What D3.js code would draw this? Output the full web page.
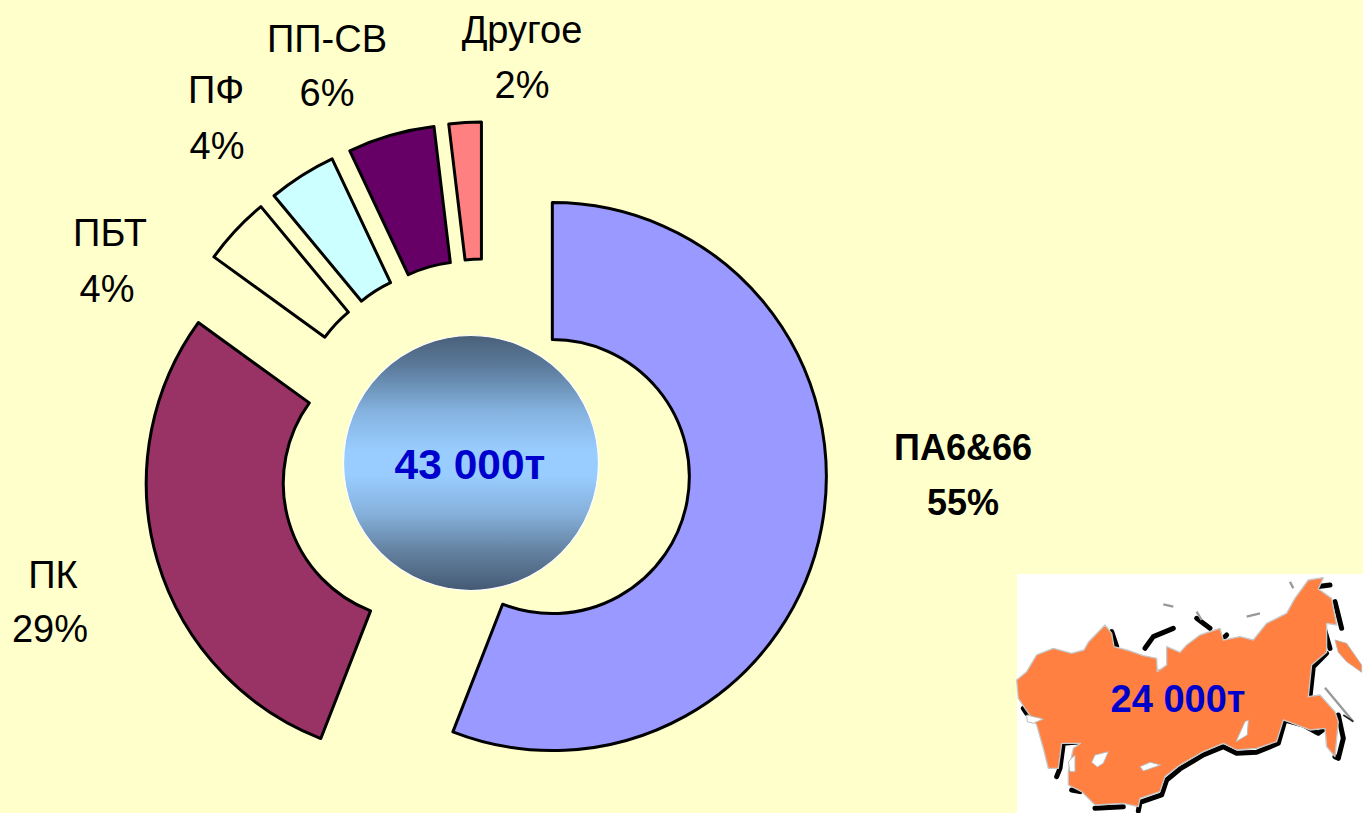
<!DOCTYPE html>
<html><head><meta charset="utf-8">
<script src="https://cdn.jsdelivr.net/npm/d3@7/dist/d3.min.js"></script>
<style>html,body{margin:0;padding:0;background:#FFFFCC;overflow:hidden}svg{display:block}text{font-family:"Liberation Sans",Arial,sans-serif}</style>
</head><body><svg id="c" width="1363" height="813"></svg>
<script>
const categories = ["ПА6&66","ПК","ПБТ","ПФ","ПП-СВ","Другое"];
const percentLabels = ["55%","29%","4%","4%","6%","2%"];
const sliceShares = [55.8,29,4,4,5.1,1.9];
const sliceColors = ["#9999FF","#993366","#FFFFCC","#CCFFFF","#660066","#FF8080"];
const labelAnchors = [[963,447,963,502],[53,575,50,629],[110,233,107,289],[216,90,217,146],[327,39,327,93],[522,30,522,85]];
const totalLabel = "43 000т";
const russiaLabel = "24 000т";

const W=1363,H=813,cx=485.5,cy=464,outerR=274,innerR=137,explode=68;
const svg=d3.select("#c");
svg.append("rect").attr("width",W).attr("height",H).attr("fill","#FFFFCC");

const pie=d3.pie().sort(null).value(d=>d)(sliceShares);
const arc=d3.arc().innerRadius(innerR).outerRadius(outerR);
svg.append("g").selectAll("path").data(pie).join("path")
  .attr("d",arc)
  .attr("transform",d=>{const m=(d.startAngle+d.endAngle)/2;
    return `translate(${cx+explode*Math.sin(m)},${cy-explode*Math.cos(m)})`;})
  .attr("fill",(d,i)=>sliceColors[i]).attr("stroke","#000").attr("stroke-width",3).attr("stroke-linejoin","round");

const defs=svg.append("defs");
const g=defs.append("linearGradient").attr("id","ball").attr("x1",0).attr("y1",0).attr("x2",0).attr("y2",1);
[[0,"#4a6079"],[.12,"#5b7a9b"],[.3,"#85b3e0"],[.45,"#99ccff"],[.55,"#99ccff"],[.7,"#85b0da"],[.85,"#62809f"],[1,"#455a73"]]
 .forEach(s=>g.append("stop").attr("offset",s[0]).attr("stop-color",s[1]));
svg.append("circle").attr("cx",471).attr("cy",463).attr("r",127.5).attr("fill","url(#ball)").attr("stroke","#fff").attr("stroke-width",1.2);
svg.append("text").attr("x",470).attr("y",479).attr("text-anchor","middle").attr("font-size",42.5).attr("font-weight","bold").attr("fill","#0000CC").text(totalLabel);

const lab=svg.append("g").attr("font-size",38).attr("fill","#000").attr("text-anchor","middle");
categories.forEach((c,i)=>{
  const a=labelAnchors[i],b=i===0;
  lab.append("text").attr("x",a[0]).attr("y",a[1]+13).attr("font-weight",b?"bold":null).attr("font-size",b?36:38).text(c);
  lab.append("text").attr("x",a[2]).attr("y",a[3]+13).attr("font-weight",b?"bold":null).attr("font-size",b?36:38).text(percentLabels[i]);
});

// map inset, traced in crop space
const map=svg.append("g").attr("transform","translate(1010,565) scale(.3333)");
svg.insert("rect","g").attr("x",0).attr("y",0).attr("width",0).attr("height",0);
map.append("rect").attr("x",21).attr("y",27).attr("width",1040).attr("height",720).attr("fill","#fff");
const line=d3.line().curve(d3.curveLinearClosed), open=d3.line();
const mainland=[[20,345],[50,320],[80,270],[130,250],[185,265],[222,255],[235,232],[285,180],[305,205],[312,245],[350,255],[400,272],[440,280],[442,320],[470,300],[470,245],[510,262],[530,240],[570,210],[630,190],[640,225],[690,215],[730,225],[770,175],[830,145],[855,100],[895,45],[940,38],[925,72],[965,100],[980,180],[950,175],[950,262],[905,300],[895,395],[930,390],[975,440],[985,470],[975,575],[950,545],[945,490],[900,495],[820,465],[800,530],[740,550],[680,555],[640,535],[580,560],[510,600],[465,635],[450,680],[390,700],[385,725],[340,715],[255,720],[215,680],[175,660],[175,620],[190,550],[212,535],[155,535],[145,610],[115,610],[100,550],[80,480],[45,430],[25,400]];
const shadows=[[[975,575],[985,580],[1000,520],[985,450]],[[945,490],[925,505],[880,480],[825,465],[805,535],[740,562],[680,565],[640,545],[580,570],[510,612],[470,645],[455,690],[390,712],[385,738]],[[340,725],[255,730]],[[210,530],[160,535],[150,610],[140,635]],[[950,265],[910,305],[900,395]],[[975,110],[995,190]],[[305,200],[320,245],[265,255]],[[405,250],[430,215],[490,190]],[[920,65],[960,60]],[[940,180],[960,250]],[[445,322],[475,315],[480,270]],[[560,160],[600,190]],[[625,235],[650,210]],[[40,430],[50,445]],[[185,675],[210,680]]];
shadows.forEach(s=>map.append("path").attr("d",open(s)).attr("fill","none").attr("stroke","#000").attr("stroke-width",15).attr("stroke-linejoin","round").attr("stroke-linecap","round"));
map.append("path").attr("d",line(mainland)).attr("fill","#FF8040").attr("stroke","#c8c8c8").attr("stroke-width",4).attr("stroke-linejoin","round");
map.append("path").attr("d",line([[975,225],[1010,235],[1055,300],[1055,322],[1010,290],[985,262]])).attr("fill","#FF8040").attr("stroke","#bbb").attr("stroke-width",3);
[[[245,592],[255,570],[295,560],[280,595],[262,606]],[[390,605],[420,592],[452,600],[400,618]],[[678,530],[705,470],[715,465],[712,510]],[[50,450],[100,462],[70,475],[52,470]],[[175,590],[195,570],[195,620],[180,620]]]
 .forEach(p=>map.append("path").attr("d",line(p)).attr("fill","#fff").attr("stroke","#bbb").attr("stroke-width",3));
[[[945,368],[1030,470]],[[460,118],[490,125]],[[710,155],[750,145]],[[840,50],[850,70]],[[560,140],[575,165]]]
 .forEach(p=>map.append("path").attr("d",open(p)).attr("fill","none").attr("stroke","#999").attr("stroke-width",7));
map.append("path").attr("d",open([[1000,450],[1030,470]])).attr("stroke","#222").attr("stroke-width",5);
svg.append("text").attr("x",1178).attr("y",712).attr("text-anchor","middle").attr("font-size",38).attr("font-weight","bold").attr("fill","#0000CC").text(russiaLabel);
</script></body></html>
